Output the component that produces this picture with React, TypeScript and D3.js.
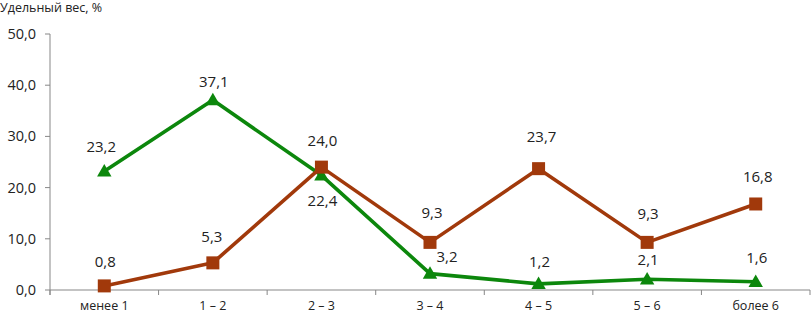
import React from "react";
import * as d3 from "d3";

const categories = ["менее 1", "1 – 2", "2 – 3", "3 – 4", "4 – 5", "5 – 6", "более 6"];
const greenValues = [23.2, 37.1, 22.4, 3.2, 1.2, 2.1, 1.6];
const brownValues = [0.8, 5.3, 24.0, 9.3, 23.7, 9.3, 16.8];
const yTicks = [0, 10, 20, 30, 40, 50];

// label offsets (style): [dx, dy] from point centre
const greenLabelOffsets: [number, number][] = [[-3, -24], [1, -18], [1, 25], [17, -17], [1, -22], [1, -19], [1, -24]];
const brownLabelOffsets: [number, number][] = [[1, -24], [-1, -26], [1, -26], [2, -30], [3, -32], [1, -29], [2, -27]];

const W = 811;
const H = 314;
const M = { left: 50, right: 1, top: 34, bottom: 24 };
const GREEN = "#0C870C";
const BROWN = "#A1390B";
const AXIS = "#878787";
const TEXT = "#222222";
const FONT = "'Open Sans', sans-serif";

const fmt = (v: number) => v.toFixed(1).replace(".", ",");

export default function App() {
  const x = d3.scaleBand<string>().domain(categories).range([M.left, W - M.right]).paddingInner(0).paddingOuter(0);
  const y = d3.scaleLinear().domain([0, 50]).range([H - M.bottom, M.top]);
  const cx = (i: number) => (x(categories[i]) as number) + x.bandwidth() / 2;
  const line = d3.line<number>().x((_, i) => cx(i)).y((d) => y(d));
  const tri = d3.symbol().type(d3.symbolTriangle).size(90)();
  const y0 = y(0);
  const boundaries = categories.map((c) => x(c) as number).concat([W - M.right]);

  return (
    <svg width={W} height={H} style={{ position: "absolute", left: 0, top: 0, display: "block" }}>
      <text x={0} y={12} fontFamily={FONT} fontSize={12.5} fill={TEXT}>Удельный вес, %</text>
      {/* y axis */}
      <line x1={M.left} x2={M.left} y1={y(50)} y2={y0 + 5} stroke={AXIS} strokeWidth={1} />
      {yTicks.map((t) => (
        <g key={t}>
          <line x1={M.left - 5} x2={M.left} y1={y(t)} y2={y(t)} stroke={AXIS} />
          <text x={M.left - 14} y={y(t)} dy="0.35em" textAnchor="end" fontFamily={FONT} fontSize={14.5} fill={TEXT}>{fmt(t)}</text>
        </g>
      ))}
      {/* x axis */}
      <line x1={M.left} x2={W - M.right} y1={y0} y2={y0} stroke={AXIS} />
      {boundaries.map((b, i) => (
        <line key={i} x1={b} x2={b} y1={y0} y2={y0 + 5} stroke={AXIS} />
      ))}
      {categories.map((c, i) => (
        <text key={c} x={cx(i)} y={310} textAnchor="middle" fontFamily={FONT} fontSize={12.5} fill={TEXT}>{c}</text>
      ))}
      {/* green series */}
      <path d={line(greenValues) || ""} fill="none" stroke={GREEN} strokeWidth={3.6} strokeLinejoin="round" />
      {greenValues.map((v, i) => (
        <path key={i} d={tri || ""} transform={`translate(${cx(i)},${y(v) + 1})`} fill={GREEN} />
      ))}
      {/* brown series */}
      <path d={line(brownValues) || ""} fill="none" stroke={BROWN} strokeWidth={3.6} strokeLinejoin="round" />
      {brownValues.map((v, i) => (
        <rect key={i} x={cx(i) - 6.5} y={y(v) - 6.5} width={13} height={13} fill={BROWN} />
      ))}
      {/* labels */}
      {greenValues.map((v, i) => (
        <text key={"g" + i} x={cx(i) + greenLabelOffsets[i][0]} y={y(v) + greenLabelOffsets[i][1]} dy="0.35em" textAnchor="middle" fontFamily={FONT} fontSize={15} fill={TEXT}>{fmt(v)}</text>
      ))}
      {brownValues.map((v, i) => (
        <text key={"b" + i} x={cx(i) + brownLabelOffsets[i][0]} y={y(v) + brownLabelOffsets[i][1]} dy="0.35em" textAnchor="middle" fontFamily={FONT} fontSize={15} fill={TEXT}>{fmt(v)}</text>
      ))}
    </svg>
  );
}
